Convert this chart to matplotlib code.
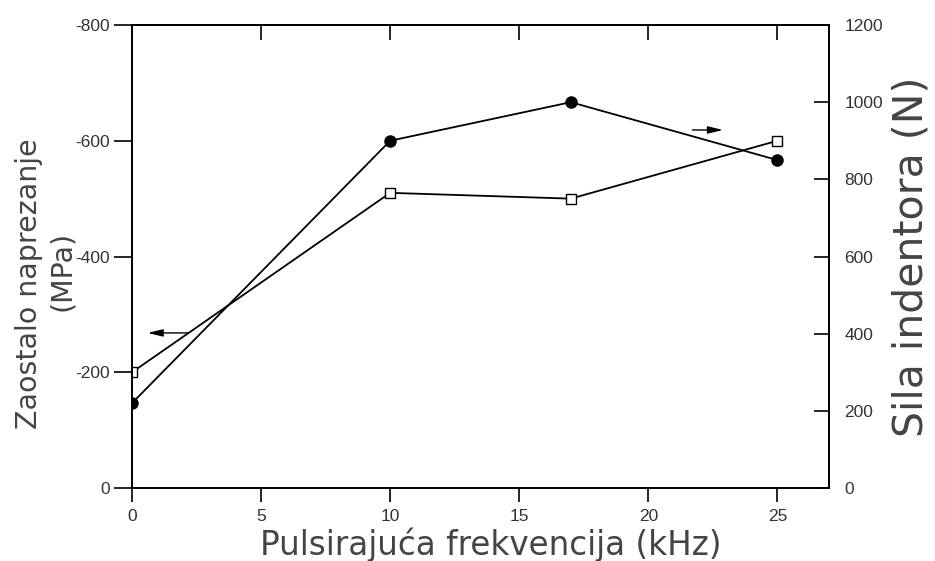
import matplotlib
matplotlib.use("Agg")
import matplotlib.pyplot as plt

plt.rcParams["axes.unicode_minus"] = False

# data
freq = [0, 10, 17, 25]
stress = [-200, -510, -500, -600]      # left axis, MPa
force = [220, 900, 1000, 850]          # right axis, N

fig = plt.figure(figsize=(9.35, 5.61), dpi=100)
ax = fig.add_axes([0.1412, 0.1301, 0.7454, 0.8253])
ax2 = ax.twinx()

ax.plot(freq, stress, color="black", lw=1.3, marker="s", ms=7,
        mfc="white", mec="black", mew=1.0, zorder=2)
ax2.plot(freq, force, color="black", lw=1.3, marker="o", ms=8,
         mfc="black", mec="black", zorder=2)

ax.set_xlim(0, 27)
ax.set_ylim(0, -800)
ax2.set_ylim(0, 1200)
ax.set_xticks([0, 5, 10, 15, 20, 25])
ax.set_yticks([0, -200, -400, -600, -800])
ax2.set_yticks([0, 200, 400, 600, 800, 1000, 1200])

# arrows pointing at the axis each series belongs to
arr = dict(arrowstyle="-|>,head_length=0.9,head_width=0.22", color="black",
           lw=1.0, mutation_scale=10)
ax.annotate("", xy=(0.5, -268), xytext=(2.3, -268), arrowprops=arr)
ax2.annotate("", xy=(23.0, 928), xytext=(21.6, 928), arrowprops=arr)

for a in (ax, ax2):
    for s in a.spines.values():
        s.set_linewidth(1.3)

tick_col = "#333333"
tick_font = "Liberation Sans"
ax.tick_params(axis="x", direction="out", length=10, width=1.2, pad=5,
               labelsize=12.5, labelcolor=tick_col)
ax.tick_params(axis="y", direction="out", length=13, width=1.2, pad=3,
               labelsize=12.5, labelcolor=tick_col)
ax2.tick_params(axis="y", direction="in", length=11, width=1.2,
                labelsize=12.5, labelcolor=tick_col, pad=11)
for lbl in ax.get_xticklabels() + ax.get_yticklabels() + ax2.get_yticklabels():
    lbl.set_fontfamily(tick_font)

# top ticks point into the plot, no labels
top = ax.secondary_xaxis("top")
top.set_xticks([5, 10, 15, 20, 25])
top.tick_params(direction="in", length=11, width=1.2, labeltop=False)
top.spines["top"].set_linewidth(1.3)

lab_col = "#444444"
ax.set_xlabel("Pulsirajuća frekvencija (kHz)", fontsize=23.5, color=lab_col)
ax.xaxis.set_label_coords(0.514, -0.085)

# left label: two lines, slightly offset from each other as in the source
ax.text(-0.148, 0.441, "Zaostalo naprezanje", transform=ax.transAxes,
        rotation=90, ha="center", va="center", fontsize=20.5, color=lab_col)
ax.text(-0.1, 0.469, "(MPa)", transform=ax.transAxes,
        rotation=90, ha="center", va="center", fontsize=20.5, color=lab_col)

ax2.set_ylabel("Sila indentora (N)", fontsize=29.5, color=lab_col)
ax2.yaxis.set_label_coords(1.09, 0.50)

plt.savefig("out.png", dpi=100)
plt.close()
